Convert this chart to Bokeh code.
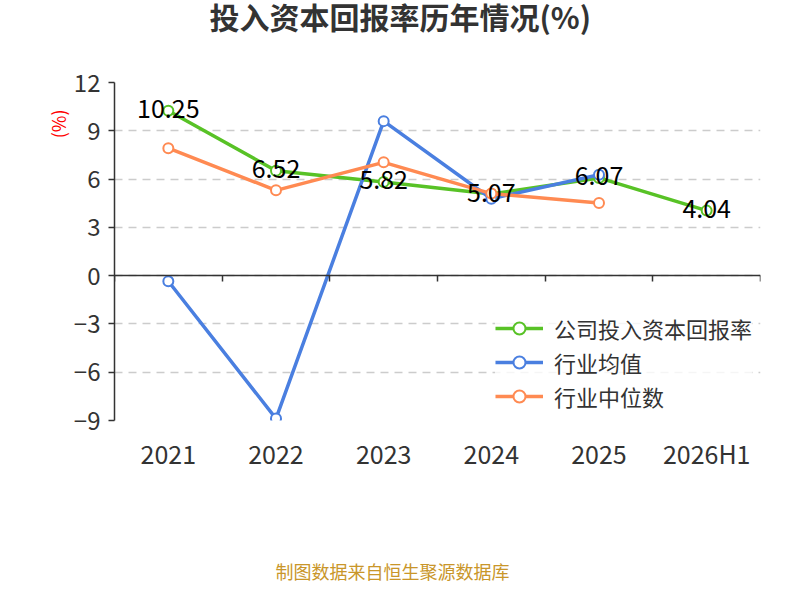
from bokeh.plotting import figure
from bokeh.models import (ColumnDataSource, Range1d, FactorRange, FixedTicker, LinearAxis,
                          Title, Legend, LegendItem)
from bokeh.core.properties import value
from bokeh.embed import file_html
from bokeh.resources import INLINE

FONT = "Noto Sans CJK SC"

# data
years = ["2021", "2022", "2023", "2024", "2025", "2026H1"]
company_roic = [10.25, 6.52, 5.82, 5.07, 6.07, 4.04]
industry_mean = [-0.35, -8.88, 9.6, 4.78, 6.27]
industry_median = [7.92, 5.3, 7.04, 5.1, 4.52]
y_ticks = [-9, -6, -3, 0, 3, 6, 9, 12]

green = "#58c226"
blue = "#4a7fe0"
orange = "#ff8a52"

p = figure(
    width=784, height=584,
    x_range=FactorRange(*years, range_padding=0),
    y_range=Range1d(-9, 12),
    title="投入资本回报率历年情况(%)",
    output_backend="svg", toolbar_location=None,
    min_border_left=114, min_border_right=24,
    min_border_top=82, min_border_bottom=152,
)
p.outline_line_color = None
p.background_fill_color = "white"

# main title sits outermost; a tiny spacer title pushes it to the top edge
p.title.text_font = FONT
p.title.text_font_size = "30px"
p.title.text_font_style = "bold"
p.title.text_color = "#333333"
p.title.align = "left"
p.title.offset = 95
p.title.standoff = -34
p.add_layout(Title(text=" ", text_font_size="2px", standoff=58), "above")

# y axis
p.yaxis.ticker = FixedTicker(ticks=y_ticks)
p.yaxis.axis_line_color = "#333333"
p.yaxis.axis_line_width = 1.5
p.yaxis.major_tick_line_color = "#333333"
p.yaxis.major_tick_line_width = 1.5
p.yaxis.major_tick_out = 6
p.yaxis.major_tick_in = 0
p.yaxis.minor_tick_line_color = None
p.yaxis.major_label_text_font = FONT
p.yaxis.major_label_text_font_size = "24px"
p.yaxis.major_label_text_color = "#333333"
p.yaxis.major_label_standoff = 8

p.add_layout(Title(text="(%)", align="right", offset=27,
                   text_font=FONT, text_font_size="18px", text_font_style="normal",
                   text_color="red", standoff=0), "left")

# category labels (bottom)
p.xaxis.axis_line_color = None
p.xaxis.major_tick_line_color = None
p.xaxis.minor_tick_line_color = None
p.xaxis.major_label_text_font = FONT
p.xaxis.major_label_text_font_size = "25px"
p.xaxis.major_label_text_color = "#333333"
p.xaxis.major_label_standoff = 8

p.xgrid.grid_line_color = None
p.ygrid.ticker = FixedTicker(ticks=y_ticks)
p.ygrid.grid_line_color = "#cccccc"
p.ygrid.grid_line_dash = "8 6"
p.ygrid.grid_line_width = 1.5

src_c = ColumnDataSource(dict(x=years, y=company_roic, t=[f"{v:.2f}" for v in company_roic]))
src_m = ColumnDataSource(dict(x=years[:len(industry_mean)], y=industry_mean))
src_d = ColumnDataSource(dict(x=years[:len(industry_median)], y=industry_median))

items = []
for src, col, name in [(src_c, green, "公司投入资本回报率"),
                       (src_m, blue, "行业均值"),
                       (src_d, orange, "行业中位数")]:
    ln = p.line("x", "y", source=src, line_color=col, line_width=3.5)
    sc = p.scatter("x", "y", source=src, size=10, marker="circle",
                   fill_color="white", line_color=col, line_width=2)
    items.append(LegendItem(label=name, renderers=[ln, sc]))

p.text("x", "y", text="t", source=src_c, text_align="center", text_baseline="middle",
       text_font=value(FONT), text_font_size="25px", text_color="black", y_offset=-2)

# legend in the empty lower right of the plot area
legend = Legend(items=items, orientation="vertical", location="bottom_right",
                glyph_width=48, glyph_height=30, label_standoff=11, spacing=2,
                label_text_font=FONT, label_text_font_size="22px",
                label_text_color="#333333", border_line_color=None,
                background_fill_color="white", background_fill_alpha=0.8,
                padding=4, margin=8)
p.add_layout(legend)

# below: category labels, spacer, source note
p.add_layout(Title(text=" ", text_font_size="2px", standoff=77), "below")
p.add_layout(Title(text="制图数据来自恒生聚源数据库", align="left", offset=161,
                   text_font=FONT, text_font_size="18px", text_font_style="normal",
                   text_color="#c9962a", standoff=2), "below")

# axis line at zero with ticks on the category boundaries
zero_axis = LinearAxis(fixed_location=0,
                       ticker=FixedTicker(ticks=list(range(len(years) + 1))))
zero_axis.axis_line_color = "#333333"
zero_axis.axis_line_width = 1.5
zero_axis.major_tick_line_color = "#333333"
zero_axis.major_tick_line_width = 1.5
zero_axis.major_tick_out = 6
zero_axis.major_tick_in = 0
zero_axis.minor_tick_line_color = None
zero_axis.major_label_text_font_size = "0px"
p.add_layout(zero_axis, "below")

open("out.html", "w").write(file_html(p, INLINE))
